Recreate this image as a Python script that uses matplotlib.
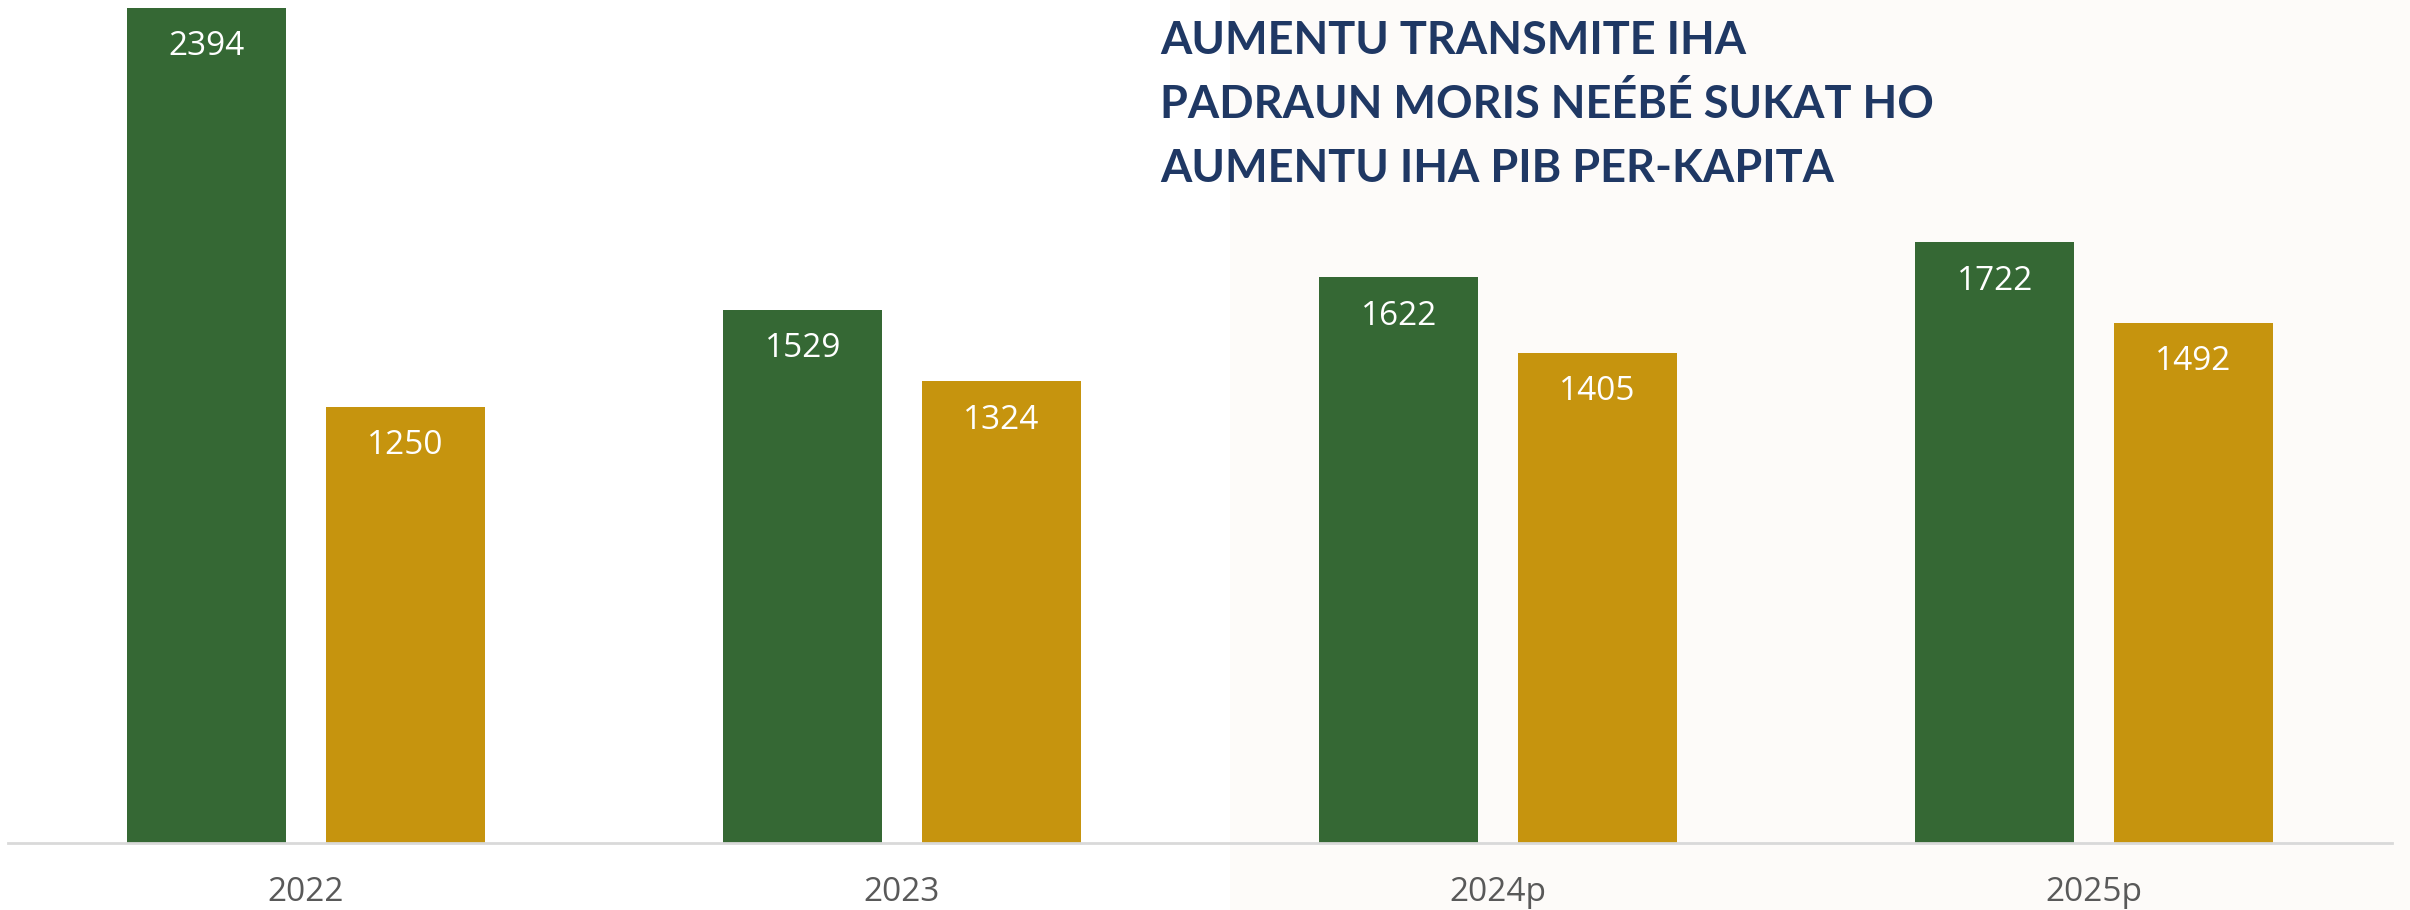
import matplotlib.pyplot as plt
import numpy as np
from matplotlib.patches import Rectangle

years = ['2022', '2023', '2024p', '2025p']
green_vals = [2394, 1529, 1622, 1722]
gold_vals = [1250, 1324, 1405, 1492]
title_lines = ['AUMENTU TRANSMITE IHA',
               'PADRAUN MORIS NEÉBÉ SUKAT HO',
               'AUMENTU IHA PIB PER-KAPITA']

GREEN = '#356834'
GOLD = '#C6940E'
NAVY = '#1F3864'
GREY = '#595959'

W, H = 2410, 910
fig = plt.figure(figsize=(W / 100, H / 100), dpi=100)
fig.patch.set_facecolor('white')

# faint watermark area on the right
fig.patches.append(Rectangle((1230 / W, 0), 1 - 1230 / W, 1, transform=fig.transFigure,
                             facecolor='#FDFBF9', edgecolor='none', zorder=-5))

ax = fig.add_axes([8 / W, (H - 843) / H, 2384 / W, 843 / H])
ax.set_zorder(2)
ax.patch.set_alpha(0)

x = np.arange(len(years))
bw = 0.266
off = 0.1665
b1 = ax.bar(x - off, green_vals, bw, color=GREEN, zorder=2)
b2 = ax.bar(x + off, gold_vals, bw, color=GOLD, zorder=2)

for bars, vals in ((b1, green_vals), (b2, gold_vals)):
    for r, v in zip(bars, vals):
        ax.annotate(str(v), (r.get_x() + r.get_width() / 2, v), xytext=(0, -28),
                    textcoords='offset points', ha='center', va='center',
                    color='white', fontsize=24, family='Open Sans')

ax.set_xlim(-0.5, len(years) - 0.5)
ax.set_ylim(0, 2417)
ax.set_xticks(x)
ax.set_xticklabels(years, fontsize=24, family='Open Sans', color=GREY)
ax.tick_params(axis='x', length=0, pad=24)
ax.set_yticks([])
for s in ['top', 'right', 'left']:
    ax.spines[s].set_visible(False)
ax.spines['bottom'].set_color('#D9D9D9')
ax.spines['bottom'].set_linewidth(2)
ax.spines['bottom'].set_zorder(3)

for i, line in enumerate(title_lines):
    fig.text(1160 / W, 1 - (41 + 64 * i) / H, line, ha='left', va='center',
             fontsize=32.5, fontweight='bold', family='Lato', color=NAVY, zorder=5)

fig.savefig('out.png', dpi=100)
